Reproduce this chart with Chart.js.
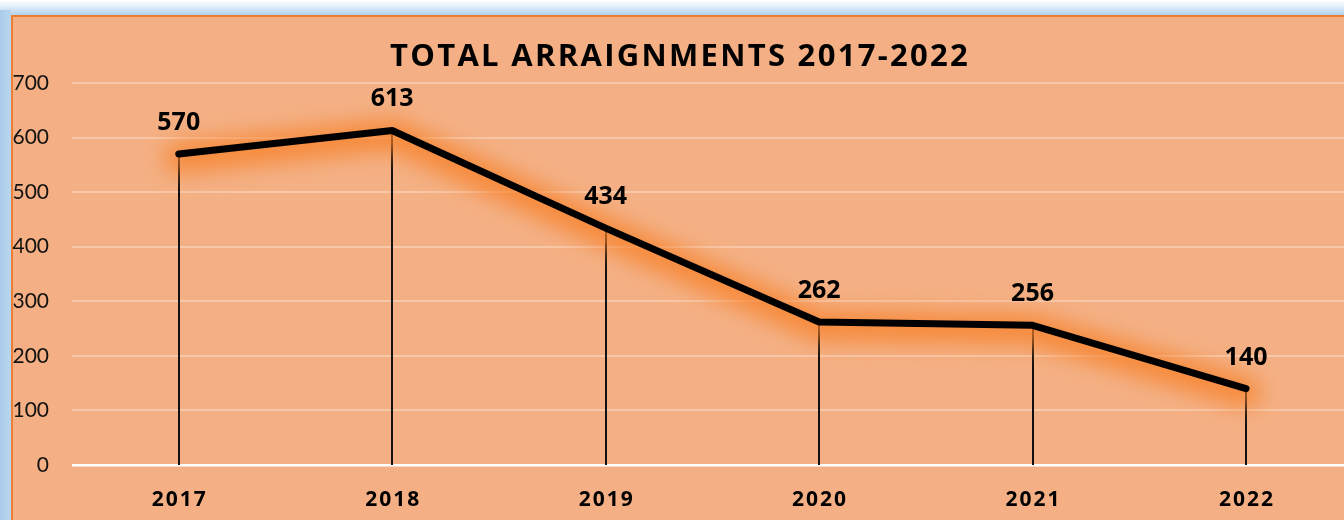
<!DOCTYPE html>
<html>
<head>
<meta charset="utf-8">
<script src="https://cdn.jsdelivr.net/npm/chart.js@4"></script>
<style>
  html, body { margin: 0; padding: 0; width: 1344px; height: 520px; overflow: hidden; background: #fff; }
  #frame {
    position: absolute; left: 0; top: 0; width: 1344px; height: 520px;
    background: linear-gradient(to bottom, #ffffff 0px, #e6f0fa 6px, #b7d4ee 14px);
  }
  #side {
    position: absolute; left: 0; top: 10px; width: 11px; height: 510px;
    background: linear-gradient(to right, #a9cbea, #b9d6f0);
  }
  #panel {
    position: absolute; left: 11px; top: 15px; right: 0; bottom: 0;
    background: #f4b084;
    border-left: 2px solid #ed7d31; border-top: 2px solid #ed7d31;
  }
  canvas { position: absolute; left: 0; top: 0; }
</style>
</head>
<body>
<div id="frame"></div>
<div id="side"></div>
<div id="panel"></div>
<canvas id="c" width="1344" height="520"></canvas>
<script>
// Yearly totals
const years = ['2017', '2018', '2019', '2020', '2021', '2022'];
const arraignments = [570, 613, 434, 262, 256, 140];
const yTicks = [0, 100, 200, 300, 400, 500, 600, 700];
const chartTitle = 'TOTAL ARRAIGNMENTS 2017-2022';

const TICK_FONT = 'Lato, "Open Sans", sans-serif';
const BOLD_FONT = '"Open Sans", Lato, sans-serif';

// Glow under the line, value labels, drop lines, title and year labels
const decor = {
  id: 'decor',
  beforeDatasetDraw(chart) {
    const ctx = chart.ctx;
    const x = chart.scales.x, y = chart.scales.y;
    // drop lines from each point down to the zero line
    ctx.save();
    ctx.strokeStyle = '#111';
    ctx.lineWidth = 2;
    arraignments.forEach((v, i) => {
      const px = Math.round(x.getPixelForValue(i));
      ctx.beginPath();
      ctx.moveTo(px, y.getPixelForValue(v));
      ctx.lineTo(px, y.getPixelForValue(0));
      ctx.stroke();
    });
    ctx.restore();
    // soft orange glow following the series
    ctx.save();
    ctx.filter = 'blur(11px)';
    ctx.strokeStyle = 'rgba(247,128,40,0.85)';
    ctx.lineWidth = 28;
    ctx.lineJoin = 'round';
    ctx.lineCap = 'round';
    ctx.beginPath();
    arraignments.forEach((v, i) => {
      const px = x.getPixelForValue(i), py = y.getPixelForValue(v) + 4;
      if (i === 0) ctx.moveTo(px, py); else ctx.lineTo(px, py);
    });
    ctx.stroke();
    ctx.restore();
  },
  afterDatasetDraw(chart) {
    const ctx = chart.ctx;
    const x = chart.scales.x, y = chart.scales.y;
    ctx.save();
    ctx.fillStyle = '#000';
    ctx.textAlign = 'center';
    ctx.textBaseline = 'alphabetic';
    ctx.font = 'bold 25px ' + BOLD_FONT;
    arraignments.forEach((v, i) => {
      ctx.fillText(String(v), x.getPixelForValue(i), y.getPixelForValue(v) - 24);
    });
    // year labels under the axis
    ctx.font = 'bold 21px ' + BOLD_FONT;
    ctx.letterSpacing = '2px';
    years.forEach((lab, i) => {
      ctx.fillText(lab, x.getPixelForValue(i) + 1, 506);
    });
    // title
    ctx.font = 'bold 31px ' + BOLD_FONT;
    ctx.letterSpacing = '2.3px';
    ctx.fillText(chartTitle, 680, 66);
    ctx.restore();
  }
};

new Chart(document.getElementById('c'), {
  type: 'line',
  data: {
    datasets: [{
      data: arraignments.map((v, i) => ({ x: i, y: v })),
      borderColor: '#000',
      borderWidth: 7,
      borderCapStyle: 'round',
      borderJoinStyle: 'round',
      pointRadius: 0,
      tension: 0,
      fill: false
    }]
  },
  options: {
    responsive: false,
    animation: false,
    layout: { padding: { left: 0, right: 0, top: 83, bottom: 0 } },
    plugins: { legend: { display: false }, tooltip: { enabled: false }, title: { display: false } },
    scales: {
      x: {
        type: 'linear',
        min: -0.5,
        max: 5.459,
        afterFit(s) { s.height = 55; },
        border: { display: false },
        grid: { display: false },
        ticks: { display: false }
      },
      y: {
        min: 0,
        max: 700,
        afterBuildTicks(s) { s.ticks = yTicks.map(v => ({ value: v })); },
        afterFit(s) { s.width = 72; },
        border: { display: false },
        grid: {
          drawTicks: false,
          color: ctx => ctx.tick && ctx.tick.value === 0 ? '#ffffff' : 'rgba(255,255,255,0.3)',
          lineWidth: ctx => ctx.tick && ctx.tick.value === 0 ? 2.5 : 2
        },
        ticks: {
          padding: 23,
          color: '#111',
          font: { family: TICK_FONT, size: 21 },
          callback: v => String(v)
        }
      }
    }
  },
  plugins: [decor]
});
</script>
</body>
</html>
